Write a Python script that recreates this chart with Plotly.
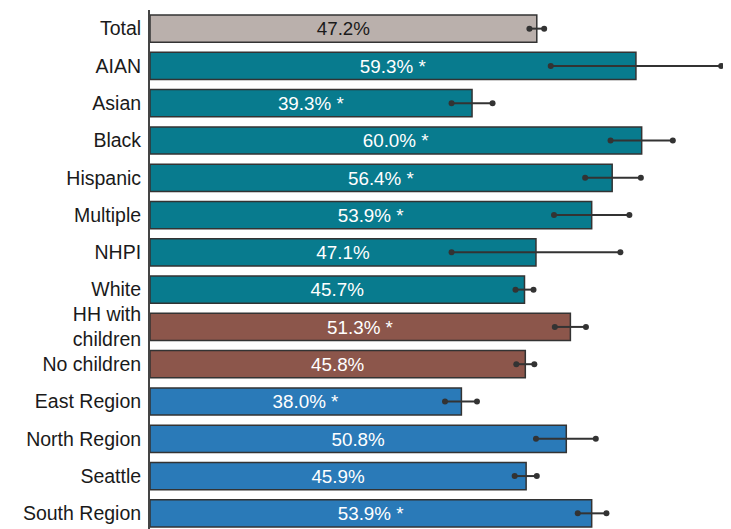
#!/usr/bin/env python

"""
Horizontal bar chart of percentages by group, with confidence intervals.
"""

import plotly.graph_objects as go

################################################################################
################################## Chart Data ##################################
################################################################################

CATEGORIES = [
    'Total', 'AIAN', 'Asian', 'Black', 'Hispanic', 'Multiple', 'NHPI', 'White',
    'HH with<br>children', 'No children',
    'East Region', 'North Region', 'Seattle', 'South Region'
]

VALUES = [47.2, 59.3, 39.3, 60.0, 56.4, 53.9, 47.1, 45.7, 51.3, 45.8,
          38.0, 50.8, 45.9, 53.9]

CI_LOW = [46.3, 48.9, 36.8, 56.2, 53.1, 49.3, 36.8, 44.6, 49.4, 44.7,
          36.0, 47.1, 44.5, 52.2]

CI_HIGH = [48.1, 69.7, 41.8, 63.8, 59.9, 58.5, 57.4, 46.8, 53.2, 46.9,
           39.9, 54.4, 47.2, 55.7]

SIGNIFICANT = [False, True, True, True, True, True, False, False, True, False,
               True, False, False, True]

GROUPS = ['total'] + ['race'] * 7 + ['children'] * 2 + ['region'] * 4

################################################################################
################################### Styling ####################################
################################################################################

GROUP_COLORS = dict(
    total='#bab0ac',
    race='#087b8e',
    children='#8c564b',
    region='#2a7ab8'
)

FONT = 'Liberation Sans, Arial, sans-serif'
FONT_SIZE = 19.5

### The page body keeps its default 8px margin, so the figure is sized to fit
PAGE_MARGIN = 8

################################################################################
################################### Figure #####################################
################################################################################

y_pos = list(range(len(CATEGORIES)))
labels = ['{:.1f}%{}'.format(v, ' *' if s else '') for v, s in zip(VALUES, SIGNIFICANT)]
bar_colors = [GROUP_COLORS[g] for g in GROUPS]
text_colors = ['#1a1a1a' if g == 'total' else 'white' for g in GROUPS]

fig = go.Figure()

fig.add_trace(go.Bar(
    x=VALUES,
    y=y_pos,
    orientation='h',
    width=0.73,
    marker=dict(color=bar_colors, line=dict(color='#333333', width=1.5)),
    text=labels,
    textposition='inside',
    insidetextanchor='middle',
    textangle=0,
    textfont=dict(family=FONT, size=FONT_SIZE, color=text_colors),
    hoverinfo='skip'
))

### Confidence Interval Lines With Dot Ends
err_x, err_y = [], []
for i, (lo, hi) in enumerate(zip(CI_LOW, CI_HIGH)):
    err_x += [lo, hi, None]
    err_y += [i, i, None]

fig.add_trace(go.Scatter(
    x=err_x,
    y=err_y,
    mode='lines+markers',
    line=dict(color='#333333', width=2),
    marker=dict(color='#333333', size=6),
    hoverinfo='skip'
))

fig.update_layout(
    width=731 - PAGE_MARGIN,
    height=529 - PAGE_MARGIN,
    margin=dict(l=150 - PAGE_MARGIN, r=0, t=10 - PAGE_MARGIN, b=0),
    plot_bgcolor='white',
    paper_bgcolor='white',
    showlegend=False,
    font=dict(family=FONT, size=FONT_SIZE, color='#1a1a1a')
)

fig.update_xaxes(
    range=[0, 70.9],
    showgrid=False,
    zeroline=False,
    showticklabels=False,
    showline=False
)

fig.update_yaxes(
    range=[13.42, -0.5],
    tickvals=y_pos,
    ticktext=CATEGORIES,
    showgrid=False,
    zeroline=False,
    showline=True,
    linecolor='#444444',
    linewidth=2,
    ticks='',
    ticklabelstandoff=3,
    tickfont=dict(family=FONT, size=FONT_SIZE, color='#1a1a1a')
)

fig.write_html("out.html")
